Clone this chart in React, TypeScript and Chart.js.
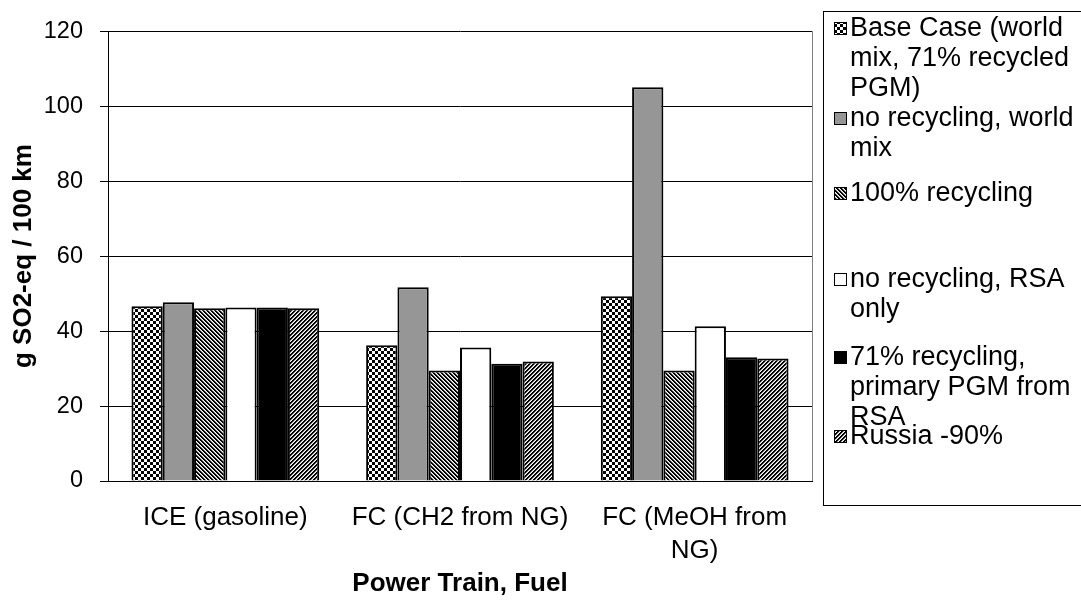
import React, { useEffect, useRef } from 'react';
import { Chart, registerables } from 'chart.js';

Chart.register(...registerables);

const CATEGORIES: (string | string[])[] = ['ICE (gasoline)', 'FC (CH2 from NG)', ['FC (MeOH from', 'NG)']];
const SERIES_NAMES = [
  'Base Case (world mix, 71% recycled PGM)',
  'no recycling, world mix',
  '100% recycling',
  'no recycling, RSA only',
  '71% recycling, primary PGM from RSA',
  'Russia -90%',
];
const BASE_CASE = [46.6, 36.2, 49.3];
const NO_RECYCLING_WORLD = [47.7, 51.7, 105.0];
const FULL_RECYCLING = [46.1, 29.5, 29.5];
const NO_RECYCLING_RSA = [46.3, 35.6, 41.3];
const RECYCLING_71_RSA = [46.3, 31.3, 33.0];
const RUSSIA_90 = [46.1, 31.9, 32.7];
const Y_MIN = 0;
const Y_MAX = 120;
const Y_STEP = 20;
const Y_TITLE = 'g SO2-eq / 100 km';
const X_TITLE = 'Power Train, Fuel';

const FONT = '"Liberation Sans", Arial, sans-serif';

function makePattern(kind: string): CanvasPattern | string {
  const c = document.createElement('canvas');
  const size = kind === 'checker' ? 6 : 4;
  c.width = size;
  c.height = size;
  const g = c.getContext('2d')!;
  g.fillStyle = '#fff';
  g.fillRect(0, 0, size, size);
  for (let y = 0; y < size; y++) {
    for (let x = 0; x < size; x++) {
      let col = '';
      if (kind === 'checker') {
        if ((Math.floor(x / 3) + Math.floor(y / 3)) % 2 === 0) col = '#000';
      } else if (kind === 'back') {
        const m = (x - y + 8) % 4;
        if (m < 2) col = '#000';
        else if (m === 2) col = '#aaa';
      } else if (kind === 'fwd') {
        const m = (x + y) % 4;
        if (m < 2) col = '#000';
        else if (m === 2) col = '#aaa';
      }
      if (col) {
        g.fillStyle = col;
        g.fillRect(x, y, 1, 1);
      }
    }
  }
  const p = g.createPattern(c, 'repeat');
  return p || '#888';
}

const LEGEND_ITEM_Y = [29, 119, 194, 280, 358, 437];
const LEGEND_LINE_H = 30;

export default function App() {
  const ref = useRef<HTMLCanvasElement>(null);
  useEffect(() => {
    document.body.style.margin = '0';
    const canvas = ref.current!;
    const fills = [
      makePattern('checker'),
      '#969696',
      makePattern('back'),
      '#ffffff',
      '#000000',
      makePattern('fwd'),
    ];
    const values = [BASE_CASE, NO_RECYCLING_WORLD, FULL_RECYCLING, NO_RECYCLING_RSA, RECYCLING_71_RSA, RUSSIA_90];

    const legendPlugin = {
      id: 'customLegend',
      afterDraw(chart: any) {
        const ctx = chart.ctx as CanvasRenderingContext2D;
        const area = chart.chartArea;
        ctx.save();
        ctx.strokeStyle = '#808080';
        ctx.lineWidth = 1;
        ctx.beginPath();
        ctx.moveTo(Math.round(area.right) + 0.5, area.top);
        ctx.lineTo(Math.round(area.right) + 0.5, area.bottom);
        ctx.stroke();
        ctx.strokeStyle = '#000';
        ctx.strokeRect(823.5, 11.5, 300, 494);
        ctx.font = `27px ${FONT}`;
        ctx.textBaseline = 'middle';
        ctx.fillStyle = '#000';
        const maxW = 228;
        chart.data.datasets.forEach((ds: any, i: number) => {
          const words = String(ds.label).split(' ');
          const lines: string[] = [];
          let cur = '';
          for (const w of words) {
            const t = cur ? cur + ' ' + w : w;
            if (ctx.measureText(t).width > maxW && cur) {
              lines.push(cur);
              cur = w;
            } else cur = t;
          }
          if (cur) lines.push(cur);
          const y0 = LEGEND_ITEM_Y[i];
          ctx.fillStyle = ds.backgroundColor;
          ctx.fillRect(834, y0 - 7, 13, 13);
          ctx.strokeStyle = '#000';
          ctx.lineWidth = 1;
          ctx.strokeRect(834.5, y0 - 6.5, 12, 12);
          ctx.fillStyle = '#000';
          lines.forEach((ln, k) => ctx.fillText(ln, 850, y0 + k * LEGEND_LINE_H));
        });
        ctx.restore();
      },
    };

    const chart = new Chart(canvas, {
      type: 'bar',
      data: {
        labels: CATEGORIES as any,
        datasets: SERIES_NAMES.map((name, i) => ({
          label: name,
          data: values[i],
          backgroundColor: fills[i] as any,
          borderColor: '#000',
          borderWidth: 2,
          categoryPercentage: 0.8,
          barPercentage: 1.0,
        })),
      },
      options: {
        responsive: false,
        animation: false,
        devicePixelRatio: 1,
        layout: { padding: { left: 8, right: 269, top: 27, bottom: 6 } },
        plugins: { legend: { display: false }, tooltip: { enabled: false } },
        scales: {
          x: {
            grid: { display: false, drawTicks: false },
            border: { display: true, color: '#000', width: 1 },
            ticks: {
              color: '#000',
              font: { family: FONT, size: 26, lineHeight: 1.27 },
              padding: 20,
              maxRotation: 0,
              autoSkip: false,
            },
            title: {
              display: true,
              text: X_TITLE,
              color: '#000',
              font: { family: FONT, size: 26, weight: 'bold' },
              padding: { top: 0, bottom: 0 },
            },
            afterFit: (scale: any) => {
              scale.height = 118;
            },
          },
          y: {
            min: Y_MIN,
            max: Y_MAX,
            grid: { color: '#000', lineWidth: 1, tickLength: 8, drawTicks: true },
            border: { display: true, color: '#000', width: 1 },
            ticks: {
              stepSize: Y_STEP,
              color: '#000',
              font: { family: FONT, size: 23.5 },
              padding: 17,
            },
            title: {
              display: true,
              text: Y_TITLE,
              color: '#000',
              font: { family: FONT, size: 26, weight: 'bold' },
              padding: { top: 0, bottom: 0 },
            },
            afterFit: (scale: any) => {
              scale.width = 100;
            },
          },
        },
      },
      plugins: [legendPlugin],
    });
    return () => chart.destroy();
  }, []);

  return (
    <div style={{ position: 'fixed', left: 0, top: 0, width: 1081, height: 605, background: '#fff' }}>
      <canvas ref={ref} width={1081} height={605} style={{ width: 1081, height: 605 }} />
    </div>
  );
}
